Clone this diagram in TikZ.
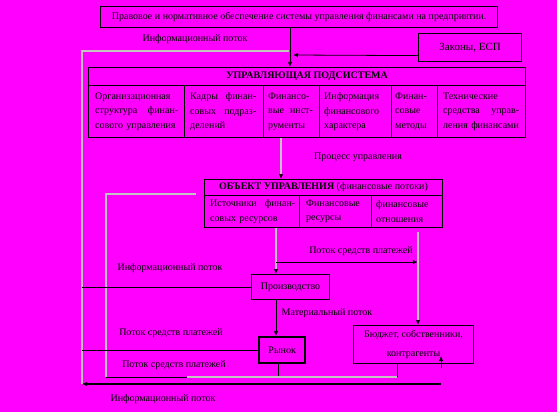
\documentclass[tikz,border=0pt]{standalone}
\usepackage{fontspec}
\setmainfont{Liberation Serif}
\usetikzlibrary{arrows.meta}
\definecolor{bg}{RGB}{255,0,255}
\definecolor{lg}{RGB}{195,195,195}
\tikzset{
  box/.style={draw=black, line width=1.2pt, inner sep=0pt, anchor=north west},
  txt/.style={inner sep=0pt, font=\fontsize{10}{14.5}\selectfont},
  celltext/.style={txt, anchor=west, align=left},
  lbl/.style={txt},
  thinl/.style={draw=black, line width=0.8pt},
  greyl/.style={draw=lg, line width=2pt},
  thickl/.style={draw=black, line width=1.8pt},
  tip/.style={-{Latex[length=5pt,width=4.5pt,color=black]}},
}
\begin{document}
\begin{tikzpicture}[x=1pt,y=-1pt]
\fill[bg] (0,0) rectangle (557,412);
\useasboundingbox (0,0) rectangle (557,412);

% columns / junctions
\coordinate (cx) at (290,0);
\coordinate (xu) at (281,0);
\coordinate (xp) at (276,0);
\coordinate (xr) at (278,0);
\coordinate (xb) at (418,0);
\coordinate (xbb) at (397,0);
\coordinate (xd) at (441,0);
\coordinate (L1) at (82,51);
\coordinate (L2) at (82,384);
\coordinate (J1) at (289,51);
\coordinate (J2) at (293,55);
\coordinate (B1) at (106,377);
\coordinate (B2) at (106,194);
\coordinate (O1) at (196,194);
\coordinate (P1) at (276,262);
\coordinate (P2) at (418,262);
\coordinate (D1) at (441,368);
\coordinate (D2) at (441,384);

% top box
\node[box, txt, minimum width=397pt, minimum height=21pt] (law) at (100,6)
  {Правовое и нормативное обеспечение системы управления финансами на предприятии.};
% right box
\node[box, txt, font=\fontsize{11}{13}\selectfont, minimum width=103pt, minimum height=28pt] (zak) at (418,33) {Законы, ЕСП};

% managing subsystem
\node[box, minimum width=437pt, minimum height=70pt] (upr) at (88,67) {};
\node[box, txt, font=\fontsize{10}{12}\selectfont\bfseries, minimum width=437pt, minimum height=18pt] (uprh) at (88,67) {УПРАВЛЯЮЩАЯ ПОДСИСТЕМА};
\node[box, minimum width=96pt, minimum height=52pt] (c1) at (88,85) {};
\node[box, minimum width=79pt, minimum height=52pt] (c2) at (184,85) {};
\node[box, minimum width=56pt, minimum height=52pt] (c3) at (263,85) {};
\node[box, minimum width=72pt, minimum height=52pt] (c4) at (319,85) {};
\node[box, minimum width=46pt, minimum height=52pt] (c5) at (391,85) {};
\node[box, minimum width=88pt, minimum height=52pt] (c6) at (437,85) {};
\node[celltext, text width=83pt] (t1) at ([xshift=7pt]c1.west)
  {Организационная\\ структура\hfill финан-\\ сового управления};
\node[celltext, text width=66pt] (t2) at ([xshift=6pt]c2.west)
  {Кадры\hfill финан-\\ совых\hfill подраз-\\ делений};
\node[celltext, text width=45pt] (t3) at ([xshift=5pt]c3.west)
  {Финансо-\\ \mbox{вые\hspace{6pt}инст-}\\ рументы};
\node[celltext, text width=62pt] (t4) at ([xshift=5pt]c4.west)
  {Информация\\ финансового\\ характера};
\node[celltext, text width=36pt] (t5) at ([xshift=4pt]c5.west)
  {Финан-\\ совые\\ методы};
\node[celltext, text width=76pt] (t6) at ([xshift=6pt]c6.west)
  {Технические\\ средства\hfill управ-\\ ления финансами};

% object of management
\node[box, minimum width=238pt, minimum height=48pt, line width=1pt] (obj) at (204,179) {};
\node[box, txt, minimum width=238pt, minimum height=16pt, line width=1pt] (objh) at (204,179)
  {\textbf{ОБЪЕКТ УПРАВЛЕНИЯ} (финансовые потоки)};
\node[box, minimum width=95pt, minimum height=32pt, line width=1pt] (d1) at (204,195) {};
\node[box, minimum width=72pt, minimum height=32pt, line width=1pt] (d2) at (299,195) {};
\node[box, minimum width=71pt, minimum height=32pt, line width=1pt] (d3) at (371,195) {};
\node[celltext, text width=85pt] (s1) at ([xshift=6pt]d1.west) {Источники\hfill финан-\\ совых ресурсов};
\node[celltext, text width=62pt] (s2) at ([xshift=7pt]d2.west) {Финансовые\\ ресурсы};
\node[celltext, text width=62pt] (s3) at ([xshift=5pt]d3.west) {финансовые\\ отношения};

% lower boxes
\node[box, txt, line width=1pt, minimum width=78pt, minimum height=25pt] (prod) at (251,274) {Производство};
\node[box, txt, line width=2.4pt, minimum width=46pt, minimum height=26pt] (ryn) at (258,336) {Рынок};
\node[box, txt, line width=1pt, minimum width=120pt, minimum height=38pt, align=center] (bud) at (353,325)
  {Бюджет, собственники,\\[4pt] контрагенты};

% labels
\node[lbl] (l1) at (195,39) {Информационный поток};
\node[lbl] (l2) at (358,157) {Процесс управления};
\node[lbl] (l3) at (361,251) {Поток средств платежей};
\node[lbl] (l4) at (170,268) {Информационный поток};
\node[lbl] (l5) at (327,313) {Материальный поток};
\node[lbl] (l6) at (171,333) {Поток средств платежей};
\node[lbl] (l7) at (174,365) {Поток средств платежей};
\node[lbl] (l8) at (163,399) {Информационный поток};

% connectors
\draw[greyl, line width=2.5pt] (L2) -- (L1) -- (J1);
\draw[tip, draw=none] ([xshift=-6pt]J1) -- (J1);
\draw[thinl, tip] (law.south -| cx) -- (upr.north -| cx);
\draw[thinl, tip] ([yshift=-8pt]zak.west) -- (J2);
\draw[greyl, tip] (upr.south -| xu) -- (objh.north -| xu);
\draw[greyl] (B1) -- (B2) -- (O1);
\draw[tip, draw=none] ([xshift=-6pt]O1) -- (O1);
\draw[tip, draw=none] ([yshift=6pt]B2) -- ([yshift=-3pt]B2);
\draw[greyl, tip] (obj.south -| xp) -- (prod.north -| xp);
\draw[thinl, tip] (prod.south -| xp) -- (ryn.north -| xp);
\draw[thinl, tip] (P1) -- (P2);
\draw[thinl] (P2) -- ([yshift=30pt]P2);
\draw[greyl, tip] ([yshift=30pt]P2) -- (bud.north -| xb);
\draw[thinl] (prod.west) -- (prod.west -| L1);
\draw[thinl] (ryn.west) -- (ryn.west -| L1);
\draw[thinl] (ryn.south -| xr) -- (B1 -| xr);
\draw[thinl] (bud.south -| xbb) -- (B1 -| xbb);
\draw[thinl] (B1) -- ([xshift=81pt]B1);
\draw[greyl, line width=1.5pt] ([xshift=81pt]B1) -- (B1 -| xbb);
\draw[thinl, tip] (D1) -- ([yshift=12pt]D1);
\draw[thickl, tip] (D2) -- (L2);
\end{tikzpicture}
\end{document}
